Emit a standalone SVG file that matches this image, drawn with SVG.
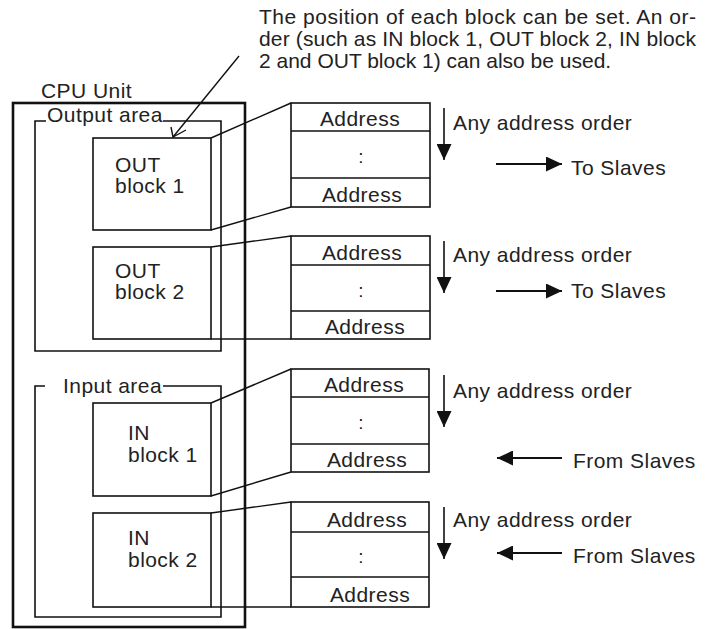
<svg xmlns="http://www.w3.org/2000/svg" width="709" height="629" viewBox="0 0 709 629">
<defs>
<style>
text{font-family:"Liberation Sans",Arial,sans-serif;font-size:21px;letter-spacing:0.45px;fill:#222}
.note{letter-spacing:0}
.c{text-anchor:middle}
.colon{font-size:19px;text-anchor:middle;letter-spacing:0}
.box{fill:none;stroke:#111;stroke-width:1.6}
.thick{fill:none;stroke:#111;stroke-width:2.6}
.ln{fill:none;stroke:#111;stroke-width:1.4}
.arr{fill:none;stroke:#111;stroke-width:1.6;marker-end:url(#ah)}
.harr{fill:none;stroke:#111;stroke-width:2.2;marker-end:url(#ah)}
</style>
<marker id="ah" viewBox="0 0 16 15" refX="16" refY="7.5" markerWidth="16" markerHeight="15" markerUnits="userSpaceOnUse" orient="auto">
<path d="M0,0 L16,7.5 L0,15 z" fill="#111"/>
</marker>
</defs>

<g id="note">
<text class="note" x="259" y="24" textLength="437" lengthAdjust="spacing">The position of each block can be set. An or-</text>
<text class="note" x="259" y="46" textLength="437" lengthAdjust="spacing">der (such as IN block 1, OUT block 2, IN block</text>
<text class="note" x="259" y="68">2 and OUT block 1) can also be used.</text>
</g>

<g id="cpu-unit">
<text x="41" y="98">CPU Unit</text>
<rect class="thick" x="13" y="103" width="232" height="524"/>
</g>

<g id="output-area">
<path class="box" d="M46,121 H35 V351 H221 V121 H163"/>
<text x="47" y="122">Output area</text>
</g>

<g id="input-area">
<path class="box" d="M45,386 H35 V617 H221 V386 H163"/>
<text x="63" y="393">Input area</text>
</g>

<g id="out-block-1">
<rect class="box" x="93" y="138" width="118" height="92"/>
<text x="115" y="172">OUT</text>
<text x="115" y="193">block 1</text>
</g>
<g id="out-block-2">
<rect class="box" x="93" y="247" width="118" height="92"/>
<text x="115" y="278">OUT</text>
<text x="115" y="299">block 2</text>
</g>
<g id="in-block-1">
<rect class="box" x="93" y="403" width="118" height="93"/>
<text x="128" y="440">IN</text>
<text x="128" y="462">block 1</text>
</g>
<g id="in-block-2">
<rect class="box" x="93" y="513" width="118" height="94"/>
<text x="128" y="545">IN</text>
<text x="128" y="567">block 2</text>
</g>

<g id="table-1">
<rect class="box" x="291" y="103" width="139" height="104"/>
<line class="box" x1="291" y1="131" x2="430" y2="131"/>
<line class="box" x1="291" y1="178" x2="430" y2="178"/>
<text class="c" x="360" y="126">Address</text>
<text class="colon" x="361" y="163">:</text>
<text class="c" x="362" y="202">Address</text>
</g>
<g id="table-2">
<rect class="box" x="291" y="236" width="139" height="103"/>
<line class="box" x1="291" y1="265" x2="430" y2="265"/>
<line class="box" x1="291" y1="311" x2="430" y2="311"/>
<text class="c" x="362" y="260">Address</text>
<text class="colon" x="361" y="297">:</text>
<text class="c" x="365" y="334">Address</text>
</g>
<g id="table-3">
<rect class="box" x="291" y="369" width="138" height="103"/>
<line class="box" x1="291" y1="397" x2="429" y2="397"/>
<line class="box" x1="291" y1="444" x2="429" y2="444"/>
<text class="c" x="364" y="392">Address</text>
<text class="colon" x="361" y="429">:</text>
<text class="c" x="367" y="467">Address</text>
</g>
<g id="table-4">
<rect class="box" x="291" y="502" width="138" height="105"/>
<line class="box" x1="291" y1="532" x2="429" y2="532"/>
<line class="box" x1="291" y1="577" x2="429" y2="577"/>
<text class="c" x="367" y="527">Address</text>
<text class="colon" x="361" y="563">:</text>
<text class="c" x="370" y="602">Address</text>
</g>

<g id="labels">
<text x="453" y="130">Any address order</text>
<text x="571" y="175">To Slaves</text>
<text x="453" y="262">Any address order</text>
<text x="571" y="298">To Slaves</text>
<text x="453" y="398">Any address order</text>
<text x="573" y="468">From Slaves</text>
<text x="453" y="527">Any address order</text>
<text x="573" y="563">From Slaves</text>
</g>

<g id="connectors">
<line class="ln" x1="211" y1="138" x2="291" y2="103"/>
<line class="ln" x1="211" y1="230" x2="291" y2="207"/>
<line class="ln" x1="211" y1="247" x2="291" y2="236"/>
<line class="ln" x1="211" y1="339" x2="291" y2="339"/>
<line class="ln" x1="211" y1="403" x2="291" y2="369"/>
<line class="ln" x1="211" y1="496" x2="291" y2="472"/>
<line class="ln" x1="211" y1="513" x2="291" y2="502"/>
<line class="ln" x1="211" y1="607" x2="291" y2="607"/>
<line class="ln" x1="239" y1="56" x2="173" y2="137"/>
<polyline class="ln" points="171,127 173,137 186,130"/>
<line class="arr" x1="444" y1="108" x2="444" y2="160"/>
<line class="arr" x1="444" y1="241" x2="444" y2="293"/>
<line class="arr" x1="444" y1="375" x2="444" y2="427"/>
<line class="arr" x1="444" y1="507" x2="444" y2="559"/>
<line class="harr" x1="496" y1="164" x2="562" y2="164"/>
<line class="harr" x1="496" y1="291" x2="562" y2="291"/>
<line class="harr" x1="562" y1="458" x2="497" y2="458"/>
<line class="harr" x1="562" y1="553" x2="497" y2="553"/>
</g>
</svg>
